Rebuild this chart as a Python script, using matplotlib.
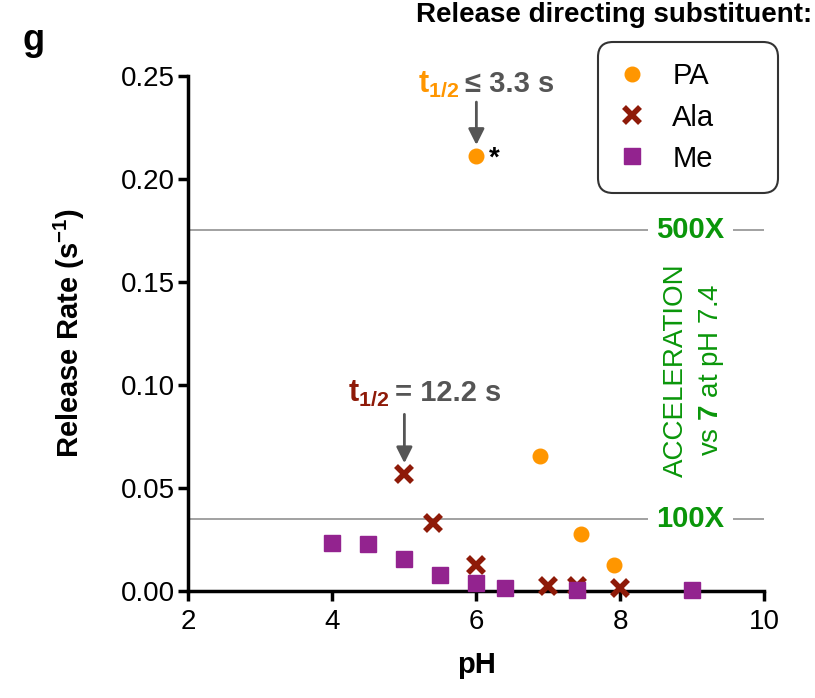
import matplotlib
matplotlib.use("Agg")
import matplotlib.pyplot as plt
from matplotlib.lines import Line2D

plt.rcParams['font.family'] = ['Liberation Sans', 'DejaVu Sans']
plt.rcParams['mathtext.fontset'] = 'custom'
plt.rcParams['mathtext.rm'] = 'Liberation Sans'
plt.rcParams['mathtext.bf'] = 'Liberation Sans:bold'

# data
ph_pa = [6.0, 6.89, 7.45, 7.91]
rate_pa = [0.211, 0.0655, 0.0277, 0.0123]
ph_ala = [5.0, 5.4, 6.0, 7.0, 7.4, 8.0]
rate_ala = [0.0565, 0.0327, 0.0125, 0.0024, 0.0024, 0.0011]
ph_me = [4.0, 4.5, 5.0, 5.5, 6.0, 6.4, 7.4, 9.0]
rate_me = [0.0231, 0.0227, 0.0155, 0.0078, 0.0036, 0.0013, 0.0002, 0.0002]

levels = [0.035, 0.175]
level_labels = ['100X', '500X']

x_ticks = [2, 4, 6, 8, 10]
y_ticks = [0.0, 0.05, 0.10, 0.15, 0.20, 0.25]

orange = '#FF9600'
darkred = '#8E1A08'
purple = '#93238F'
green = '#0A960A'
gray = '#555555'

fig = plt.figure(figsize=(8.15, 6.98), dpi=100)
ax = fig.add_axes([0.2312, 0.1537, 0.7066, 0.7378])

# reference lines with their labels
for lev, lab in zip(levels, level_labels):
    ax.axhline(lev, color='#9a9a9a', lw=1.3, zorder=1)
    ax.text(0.872, lev, lab, transform=ax.get_yaxis_transform(), color=green,
            fontsize=21, fontweight='bold', ha='center', va='center', zorder=2,
            bbox=dict(facecolor='white', edgecolor='none', pad=6))

ax.plot(ph_pa, rate_pa, 'o', color=orange, ms=10.5, clip_on=False, zorder=3)
ax.plot(ph_ala, rate_ala, 'x', color=darkred, ms=11, mew=4, clip_on=False, zorder=4)
ax.plot(ph_me, rate_me, 's', color=purple, ms=11, clip_on=False, zorder=5)

ax.set_xlim(2, 10)
ax.set_ylim(0, 0.25)
ax.set_xticks(x_ticks)
ax.set_yticks(y_ticks)
ax.set_yticklabels([f'{v:.2f}' for v in y_ticks])
for s in ['top', 'right']:
    ax.spines[s].set_visible(False)
for s in ['left', 'bottom']:
    ax.spines[s].set_linewidth(2.5)
ax.tick_params(width=2.5, length=7, labelsize=20, pad=3)
ax.tick_params(axis='x', pad=6)

ax.set_xlabel('pH', fontsize=21, fontweight='bold', labelpad=12)
ax.set_ylabel(r'Release Rate (s$^{\mathbf{-1}}$)', fontsize=21, fontweight='bold', labelpad=24)

# half-life annotations
def half_life(x, y, color, rest, dy_text, dy_arrow, dx_split):
    ax.annotate('', xy=(x, y), xytext=(0, dy_arrow), textcoords='offset pixels',
                arrowprops=dict(arrowstyle='-|>', color=gray, lw=2, shrinkA=0,
                                shrinkB=8, mutation_scale=24))
    ax.annotate(r'$\mathbf{t_{1/2}}$', xy=(x, y), xytext=(dx_split, dy_text),
                textcoords='offset pixels', color=color, fontsize=22,
                ha='right', va='center')
    ax.annotate(rest, xy=(x, y), xytext=(dx_split + 6, dy_text),
                textcoords='offset pixels', color=gray, fontsize=21,
                fontweight='bold', ha='left', va='center')

half_life(ph_pa[0], rate_pa[0], orange, '\u2264 3.3 s', 72, 54, -17)
half_life(ph_ala[0], rate_ala[0], darkred, '= 12.2 s', 81, 60, -15)
ax.annotate('*', xy=(ph_pa[0], rate_pa[0]), xytext=(18, -3), textcoords='offset pixels',
            fontsize=20, fontweight='bold', ha='center', va='center')

ax.text(0.847, 0.4285, 'ACCELERATION', transform=ax.transAxes, rotation=90,
        color=green, fontsize=20, ha='center', va='center')
ax.text(0.908, 0.4285, r'vs $\mathbf{7}$ at pH 7.4', transform=ax.transAxes, rotation=90,
        color=green, fontsize=20, ha='center', va='center')

handles = [Line2D([], [], ls='none', marker='o', color=orange, ms=10.5),
           Line2D([], [], ls='none', marker='x', color=darkred, ms=11, mew=4),
           Line2D([], [], ls='none', marker='s', color=purple, ms=11)]
leg = ax.legend(handles, ['PA', 'Ala', 'Me'], loc='upper left',
                bbox_to_anchor=(598 / 815, 1 - 42 / 698, 180 / 815, 0),
                bbox_transform=fig.transFigure, mode='expand', borderaxespad=0,
                fontsize=21, handlelength=0.9, handletextpad=0.95, labelspacing=0.45,
                borderpad=0.7, frameon=True, fancybox=True)
frame = leg.get_frame()
frame.set_edgecolor('black')
frame.set_linewidth(1.5)
frame.set_boxstyle('round,pad=0,rounding_size=0.5')

fig.text(22 / 815, 1 - 40 / 698, 'g', fontsize=26, fontweight='bold', ha='left', va='center')
fig.text(0.997, 0.997, 'Release directing substituent:', fontsize=20, fontweight='bold',
         ha='right', va='top')

fig.savefig('out.png', dpi=100)
